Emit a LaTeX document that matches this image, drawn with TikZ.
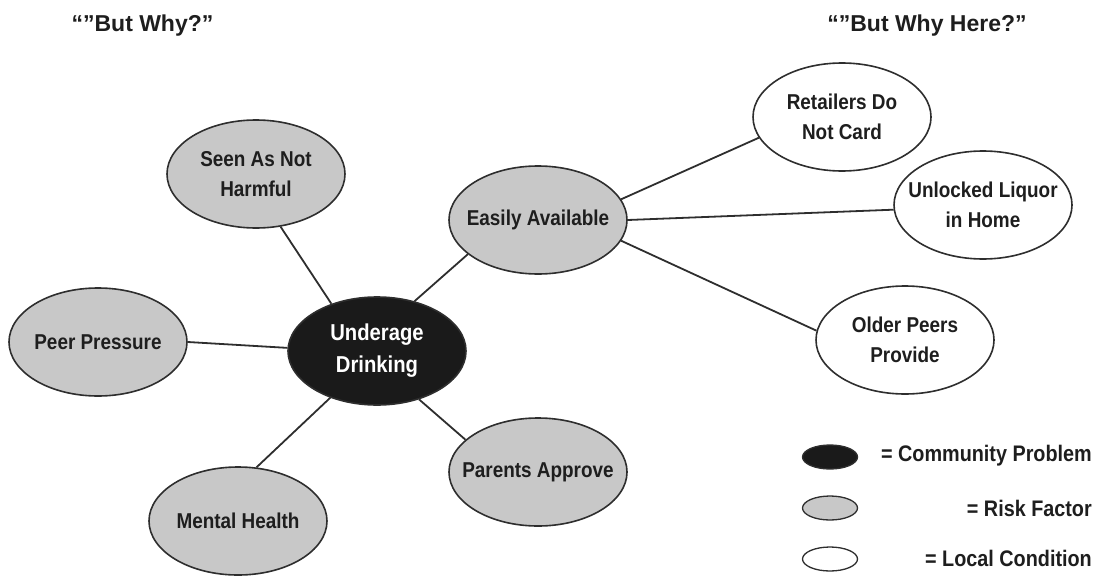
\documentclass[tikz,border=0pt]{standalone}
\usepackage{fontspec}
\setmainfont{Liberation Sans}
\newfontfamily\condfont[FakeStretch=0.88]{Liberation Sans}
\usetikzlibrary{shapes.geometric}
\definecolor{riskgray}{HTML}{C8C8C8}
\definecolor{linegray}{HTML}{2E2E2E}
\definecolor{probblack}{HTML}{1A1A1A}
\definecolor{textdark}{HTML}{1E1E1E}
\begin{document}
\begin{tikzpicture}[x=1pt,y=-1pt,
  bubble/.style={ellipse, draw=linegray, line width=1.6pt,
    minimum width=178pt, minimum height=108pt, inner xsep=-28pt, inner ysep=-12pt,
    align=center,
    text=textdark, font=\condfont\bfseries\fontsize{21.5}{30}\selectfont},
  problem/.style={bubble, fill=probblack, text=white,
    font=\condfont\bfseries\fontsize{23}{32}\selectfont},
  risk/.style={bubble, fill=riskgray},
  localcond/.style={bubble, fill=white},
  link/.style={draw=linegray, line width=1.8pt},
  legendshape/.style={ellipse, draw=linegray, line width=1.3pt,
    minimum width=55pt, minimum height=24pt, inner sep=0pt},
  legendtext/.style={anchor=base east, inner sep=0pt, text=textdark,
    font=\condfont\bfseries\fontsize{22.5}{26}\selectfont},
  title/.style={anchor=base, inner sep=0pt, text=textdark,
    font=\bfseries\fontsize{23}{26}\selectfont}]
\useasboundingbox (0,0) rectangle (1099,578);

% titles
\node[title] (t1) at (142.5,32) {“”But Why?”};
\node[title] (t2) at (927,32) {“”But Why Here?”};

% nodes
\node[problem]   (u)       at (377,351) {Underage\\Drinking};
\node[risk]      (seen)    at (256,174) {Seen As Not\\Harmful};
\node[risk]      (peer)    at (98,342)  {Peer Pressure};
\node[risk]      (mental)  at (238,521) {Mental Health};
\node[risk]      (parents) at (538,472) {Parents Approve};
\node[risk]      (easy)    at (538,220) {Easily Available};
\node[localcond] (ret)     at (842,117) {Retailers Do\\Not Card};
\node[localcond] (unl)     at (983,205) {Unlocked Liquor\\in Home};
\node[localcond] (old)     at (905,340) {Older Peers\\Provide};

% connectors
\draw[link] (seen.-65)    -- (u.134);
\draw[link] (peer.0)      -- (u.178);
\draw[link] (mental.71)   -- (u.225);
\draw[link] (parents.156) -- (u.311);
\draw[link] (easy.206)    -- (u.53);
\draw[link] (easy.14)     -- (ret.194);
\draw[link] (easy.0)      -- (unl.183);
\draw[link] (easy.-14)    -- (old.174);

% legend
\node[legendshape, fill=probblack] (lp) at (830,457) {};
\node[legendshape, fill=riskgray]  (lr) at (830,508) {};
\node[legendshape, fill=white]     (ll) at (830,559) {};
\node[legendtext] (lpt) at (1092,461) {= Community Problem};
\node[legendtext] (lrt) at (1092,516) {= Risk Factor};
\node[legendtext] (llt) at (1092,566) {= Local Condition};
\end{tikzpicture}
\end{document}
